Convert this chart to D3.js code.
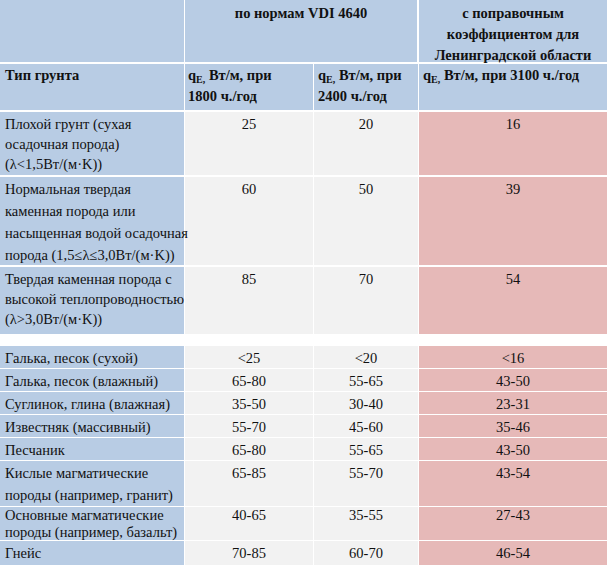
<!DOCTYPE html>
<html><head><meta charset="utf-8">
<script src="https://cdn.jsdelivr.net/npm/d3@7"></script>
<style>body{margin:0;background:#fff}text{font-family:"Times New Roman","Liberation Serif","DejaVu Serif",serif;font-size:14.5px;fill:#111}</style>
</head><body><svg id="c" width="607" height="565"></svg>
<script>
// table contents
var soilTypes = [
  ["Плохой грунт (сухая", "осадочная порода)", "(λ<1,5Вт/(м·K))"],
  ["Нормальная твердая", "каменная порода или", "насыщенная водой осадочная", "порода (1,5≤λ≤3,0Вт/(м·K))"],
  ["Твердая каменная порода с", "высокой теплопроводностью", "(λ>3,0Вт/(м·K))"],
  null,
  ["Галька, песок (сухой)"],
  ["Галька, песок (влажный)"],
  ["Суглинок, глина (влажная)"],
  ["Известняк (массивный)"],
  ["Песчаник"],
  ["Кислые магматические", "породы (например, гранит)"],
  ["Основные магматические", "породы (например, базальт)"],
  ["Гнейс"]
];
var q1800 = ["25", "60", "85", null, "<25", "65-80", "35-50", "55-70", "65-80", "65-85", "40-65", "70-85"];
var q2400 = ["20", "50", "70", null, "<20", "55-65", "30-40", "45-60", "55-65", "55-70", "35-55", "60-70"];
var q3100 = ["16", "39", "54", null, "<16", "43-50", "23-31", "35-46", "43-50", "43-54", "27-43", "46-54"];

var rowTops = [112, 177, 267, 336, 346, 369, 392, 415, 438, 461, 507, 541];
var rowBots = [175, 265, 334, 345, 368, 391, 414, 437, 460, 506, 540, 565];
var rowLh = [20, 22, 20, 0, 0, 0, 0, 0, 0, 22, 17, 0];
var blue = "#b8cce4", grey = "#f2f2f2", pink = "#e6b9b8";
var svg = d3.select("#c");

function cell(x0, x1, y0, y1, fill) {
  svg.append("rect").attr("x", x0).attr("y", y0).attr("width", x1 - x0).attr("height", y1 - y0).attr("fill", fill);
}
function lines(arr, x, y, anchor, bold, lh) {
  var t = svg.append("text").attr("x", x).attr("y", y).attr("text-anchor", anchor).attr("font-weight", bold ? "bold" : null);
  arr.forEach(function(s, i) {
    t.append("tspan").attr("x", x).attr("dy", i ? (lh || 21) : 0).text(s);
  });
}

// header
cell(0, 184, 0, 62, blue);
cell(185, 417, 0, 62, blue);
cell(419, 607, 0, 62, blue);
lines(["по нормам VDI 4640"], 301, 18, "middle", true);
lines(["с поправочным", "коэффициентом для", "Ленинградской области"], 513, 18, "middle", true);
cell(0, 184, 64, 110, blue);
cell(185, 313, 64, 110, blue);
cell(314, 418, 64, 110, blue);
cell(419, 607, 64, 110, blue);
lines(["Тип грунта"], 5, 80, "start", true);
var hq = [[188, "1800"], [318, "2400"]];
hq.forEach(function(h) {
  var t = svg.append("text").attr("x", h[0]).attr("y", 80).attr("font-weight", "bold");
  t.append("tspan").text("q");
  t.append("tspan").attr("font-size", "10px").attr("dy", 3).text("E,");
  t.append("tspan").attr("dy", -3).text(" Вт/м, при");
  svg.append("text").attr("x", h[0]).attr("y", 101).attr("font-weight", "bold").text(h[1] + " ч./год");
});
var t4 = svg.append("text").attr("x", 423).attr("y", 80).attr("font-weight", "bold");
t4.append("tspan").text("q");
t4.append("tspan").attr("font-size", "10px").attr("dy", 3).text("E,");
t4.append("tspan").attr("dy", -3).text(" Вт/м, при 3100 ч./год");

// body
soilTypes.forEach(function(s, i) {
  if (!s) return;
  var y0 = rowTops[i], y1 = rowBots[i];
  cell(0, 184, y0, y1, blue);
  cell(185, 313, y0, y1, grey);
  cell(314, 418, y0, y1, grey);
  cell(419, 607, y0, y1, pink);
  var ty = y0 + (i === 10 ? 13 : 17);
  lines(s, 5, ty, "start", false, rowLh[i]);
  lines([q1800[i]], (185 + 313) / 2, ty, "middle");
  lines([q2400[i]], (314 + 418) / 2, ty, "middle");
  lines([q3100[i]], (419 + 607) / 2, ty, "middle");
});
</script></body></html>
